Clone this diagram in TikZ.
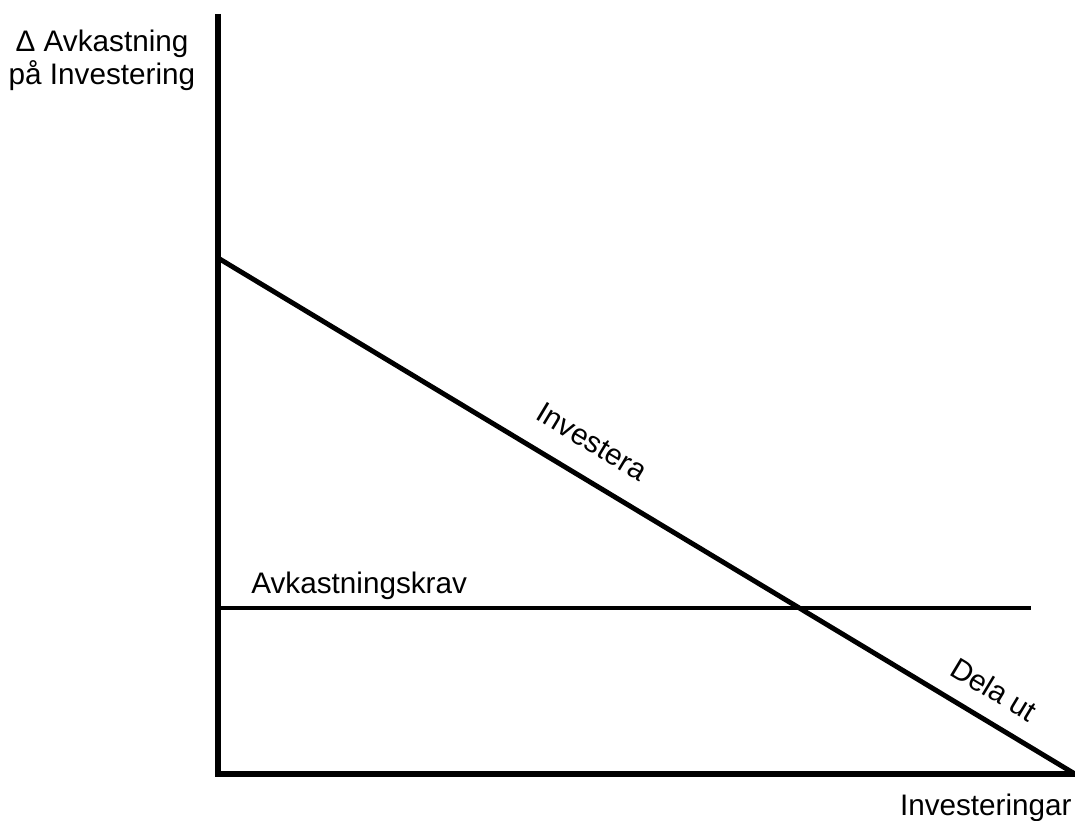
\documentclass[tikz,border=0pt]{standalone}
\usepackage{fontspec}
\setmainfont{Liberation Sans}
\usepackage{tikz}
\usetikzlibrary{calc}
\tikzset{
    axis/.style={line width=3.3pt},
    curve/.style={line width=2.8pt},
    lbl/.style={font=\fontsize{16.9}{18.8}\selectfont, inner sep=0pt}
}

\begin{document}
\begin{tikzpicture}[x=0.02cm, y=-0.02cm]
        \useasboundingbox (0,0) rectangle (1075,821);
        \coordinate (o) at (218,774);
        \coordinate (top) at (218,14);
        \coordinate (xend) at (1075,774);
        \coordinate (s) at (218,258);
        \coordinate (ka) at (218,608);
        \coordinate (kb) at (1031,608);
        \draw[axis] (top) -- (o) -- (xend);
        \draw[curve] (s) -- (xend)
            node[lbl, sloped, pos=0.415, above=13pt]{Investera}
            node[lbl, sloped, pos=0.887, above=10pt]{Dela ut};
        \draw[curve] (ka) -- (kb);
        \draw (251,593) node[lbl, anchor=base west](krav){Avkastningskrav};
        \draw (1072,815) node[lbl, anchor=base east](inv){Investeringar};
        \draw (102,85) node[lbl, anchor=base, align=center](avk){Δ Avkastning\\på Investering};
    \end{tikzpicture}
\end{document}
